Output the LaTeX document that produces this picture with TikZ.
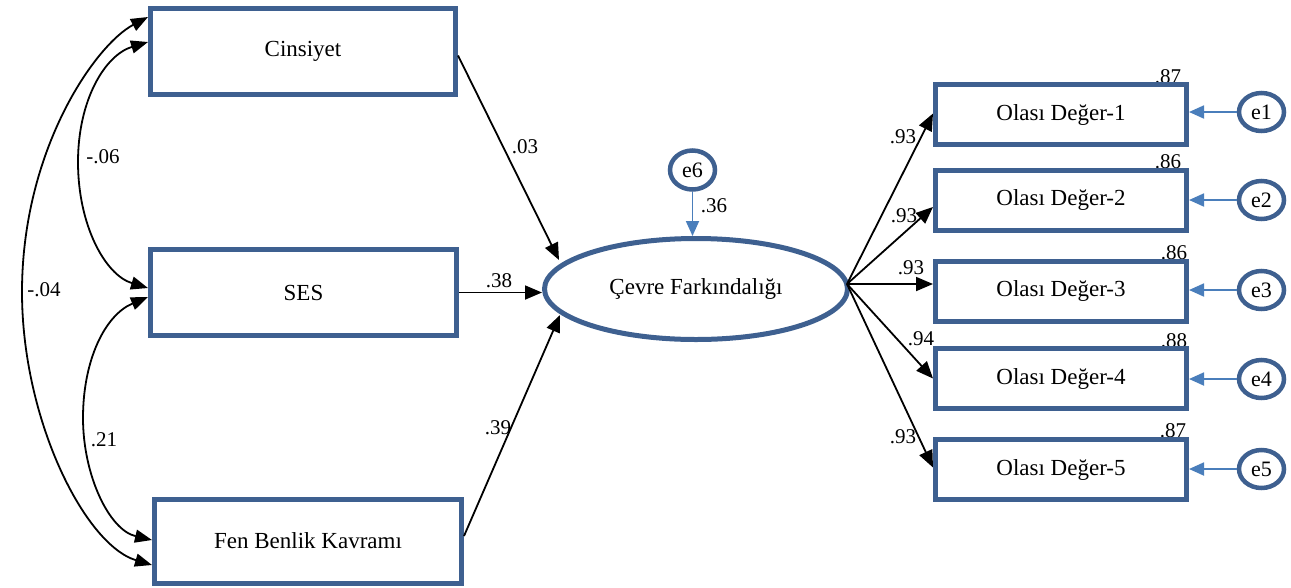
\documentclass[tikz,border=0pt]{standalone}
\usepackage{fontspec}
\setmainfont{Liberation Serif}
\usetikzlibrary{arrows.meta,shapes.geometric,calc,backgrounds}
\definecolor{boxblue}{HTML}{3E6090}
\definecolor{errblue}{HTML}{4A7EBB}
\tikzset{
  obs/.style={rectangle,draw=boxblue,line width=5pt,fill=white,inner sep=0pt,
    font=\fontsize{23}{27}\selectfont},
  lat/.style={ellipse,draw=boxblue,line width=5pt,fill=white,inner sep=0pt,
    minimum width=303pt,minimum height=101pt,font=\fontsize{23}{27}\selectfont},
  err/.style={ellipse,draw=boxblue,line width=4.5pt,fill=white,inner sep=0pt,
    minimum width=45pt,minimum height=38pt,font=\fontsize{22}{26}\selectfont},
  regarrow/.style={line width=1.8pt,-{Triangle[length=17pt,width=14pt]}},
  errarrow/.style={draw=errblue,line width=1.8pt,-{Triangle[length=15pt,width=13pt]}},
  covarrow/.style={line width=1.8pt,
    {Triangle[length=17pt,width=13pt]}-{Triangle[length=17pt,width=13pt]}},
  coef/.style={inner sep=0pt,font=\fontsize{21}{25}\selectfont},
}
\begin{document}
\begin{tikzpicture}[x=1pt,y=-1pt]
\useasboundingbox (0,0) rectangle (1291,587);

% exogenous variables
\node[obs,minimum width=305pt,minimum height=86pt] (cin) at (303,51.5) {Cinsiyet};
\node[obs,minimum width=306pt,minimum height=86pt] (ses) at (303.5,292.5) {SES};
\node[obs,minimum width=307pt,minimum height=84pt] (fen) at (308,541) {Fen Benlik Kavramı};

% latent variable and its disturbance
\node[lat] (cf) at (696,289) {Çevre Farkındalığı};
\node[err,minimum height=39pt] (e6) at (692.5,170) {e6};

% indicators and their errors
\foreach \i/\y in {1/114.5,2/200,3/291,4/378.5,5/469.5}{
  \node[obs,minimum width=251pt,minimum height=60pt] (od\i) at (1061,\y) {Olası Değer-\i};
}
\foreach \i/\y in {1/112,2/200,3/290,4/379,5/469}{
  \node[err] (e\i) at (1261.5,\y) {e\i};
}

% named ends on the latent ellipse
\coordinate (cfA) at ($(cf.center)+(-137,-29)$);
\coordinate (cfC) at ($(cf.center)+(-136,26)$);
\coordinate (cfR) at ([xshift=-3pt,yshift=5pt]cf.east);
\coordinate (covL) at (22,292);
\coordinate (covM) at (78,162);
\coordinate (covN) at (83,418);

% regressions onto the latent variable
\draw[regarrow] ([yshift=-4pt]cin.east) -- (cfA);
\draw[regarrow] (ses.east) -- (ses.east -| cf.west);
\draw[regarrow] ([yshift=5pt]fen.east) -- (cfC);
\draw[errarrow] (e6.south) -- (e6.south |- cf.north);

% loadings
\draw[regarrow] (cfR) -- ([yshift=1pt]od1.west);
\draw[regarrow] (cfR) -- ([yshift=-7pt]od2.west);
\draw[regarrow] (cfR) -- (cfR -| od3.west);
\draw[regarrow] (cfR) -- (od4.west);
\draw[regarrow] (cfR) -- ([yshift=2pt]od5.west);
\foreach \i in {1,...,5}{
  \draw[errarrow] (e\i.west) -- (e\i.west -| od\i.east);
}

% covariances
\draw[covarrow] ([yshift=34.5pt]cin.west) .. controls +(-53,28) and +(0,-142) .. (covL)
  .. controls +(0,128) and +(-67,-20) .. ([yshift=-24pt]fen.west);
\draw[covarrow] ([yshift=9.5pt]cin.west) .. controls +(-43,13) and +(0,-62) .. (covM)
  .. controls +(0,63) and +(-43,-13) .. ([yshift=4.5pt]ses.west);
\draw[covarrow] ([yshift=-4.5pt]ses.west) .. controls +(-43,18) and +(0,-58) .. (covN)
  .. controls +(0,57) and +(-43,-10) .. ([yshift=1pt]fen.west);

% coefficients
\node[coef] (k04) at (44,290) {-.04};
\node[coef] (k06) at (103,157) {-.06};
\node[coef] (k21) at (104,440) {.21};
\node[coef] (k03) at (525,147) {.03};
\node[coef] (k38) at (499,281) {.38};
\node[coef] (k39) at (498,428) {.39};
\node[coef] (k36) at (714,206) {.36};
\node[coef] (l1) at (903,137) {.93};
\node[coef] (l2) at (904,216) {.93};
\node[coef] (l3) at (911,268) {.93};
\node[coef] (l4) at (921,339) {.94};
\node[coef] (l5) at (903,437) {.93};

% squared multiple correlations, partly hidden by the boxes
\begin{pgfonlayer}{background}
\node[coef,anchor=base] (r1) at (1168,83) {.87};
\node[coef,anchor=base] (r2) at (1168,168) {.86};
\node[coef,anchor=base] (r3) at (1174,259) {.86};
\node[coef,anchor=base] (r4) at (1174,347) {.88};
\node[coef,anchor=base] (r5) at (1173,437) {.87};
\end{pgfonlayer}
\end{tikzpicture}
\end{document}
